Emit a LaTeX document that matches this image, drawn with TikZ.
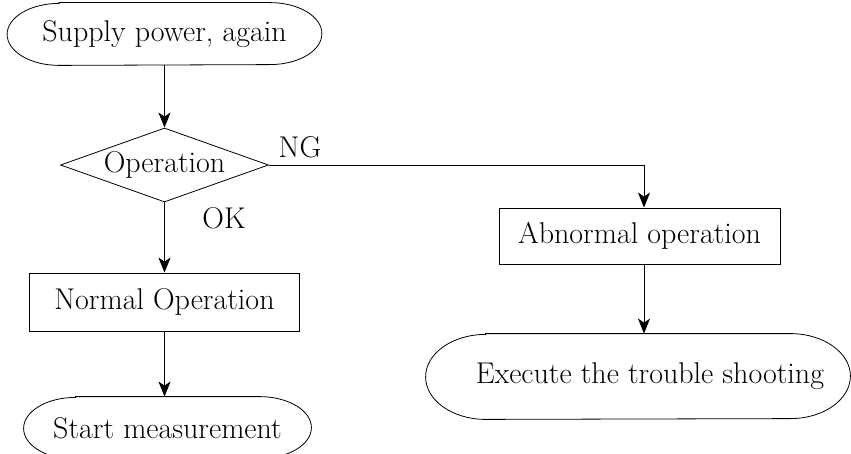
\documentclass[tikz,border=0pt]{standalone}
\usetikzlibrary{shapes.geometric,arrows.meta}
\newcommand\termoutline[3]{\draw ([xshift=#2]#1.north west) -- ([xshift=-#2]#1.north east) arc[start angle=90,end angle=-90,x radius=#2,y radius=#3] -- ([xshift=#2]#1.south west) arc[start angle=270,end angle=90,x radius=#2,y radius=#3] -- cycle;}
\begin{document}
\begin{tikzpicture}[x=1pt,y=1pt,
  font=\fontsize{30}{35}\selectfont,
  line width=0.8pt,
  >={Stealth[length=15pt,width=12pt,inset=4pt]},
  term/.style={inner sep=0pt},
  rectbox/.style={draw,inner sep=0pt},
  decision/.style={diamond,draw,aspect=2.81,inner sep=0pt},
  lbl/.style={inner sep=0pt}]
\useasboundingbox (0,0) rectangle (851,-454);
\node[term, minimum width=314pt, minimum height=62pt] (top) at (164.5,-34) {Supply power, again};
\node[decision, minimum width=208pt, minimum height=74pt] (op) at (164.5,-165) {Operation};
\node[rectbox, minimum width=270pt, minimum height=58pt] (nrm) at (164.5,-302) {Normal Operation};
\node[term, minimum width=287pt, minimum height=62pt] (st) at (167.5,-428) {Start measurement};
\node[rectbox, minimum width=281pt, minimum height=56pt] (ab) at (639.5,-236) {Abnormal operation};
\node[term, minimum width=424pt, minimum height=85pt] (ex) at (638,-376.5) {\hspace*{24pt}Execute the trouble shooting};
\node[lbl] (ng) at (300,-147) {NG};
\node[lbl] (ok) at (224,-218) {OK};
\termoutline{top}{52pt}{31pt}
\termoutline{st}{52pt}{31pt}
\termoutline{ex}{60pt}{42.5pt}
\draw[->] (top.south) -- (op.north);
\draw[->] (op.south) -- (nrm.north);
\draw[->] (nrm.south) -- (nrm.south |- st.north);
\draw[->] (op.east) -| ([xshift=4.5pt]ab.north);
\draw[->] ([xshift=4.5pt]ab.south) -- ([xshift=4.5pt]ab.south |- ex.north);
\end{tikzpicture}
\end{document}
